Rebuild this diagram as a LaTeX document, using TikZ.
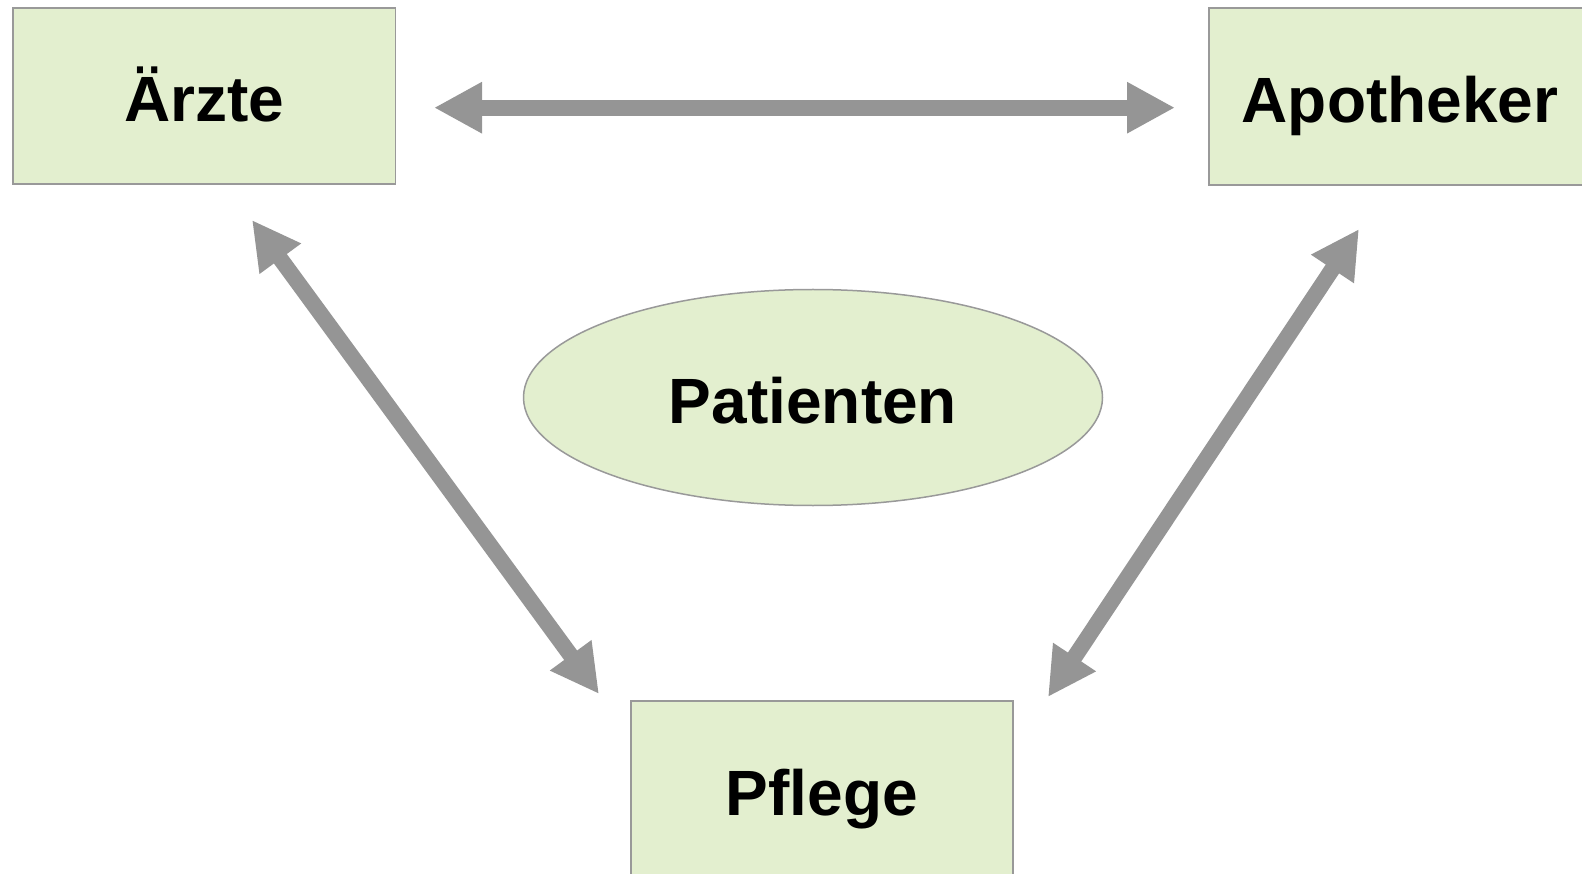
\documentclass[tikz,border=0pt]{standalone}
\usepackage{fontspec}
\setmainfont{Liberation Sans}
\usetikzlibrary{arrows.meta,shapes.geometric}
\definecolor{boxfill}{HTML}{E3EFCF}
\definecolor{boxline}{HTML}{999999}
\definecolor{arrowgray}{HTML}{959595}
\begin{document}
\begin{tikzpicture}[x=1pt,y=-1pt,
  box/.style={draw=boxline, line width=1.5pt, fill=boxfill, inner sep=0pt,
    text height=52pt, text depth=0pt,
    font=\fontsize{64}{70}\selectfont\bfseries},
  link/.style={draw=arrowgray, line width=16pt,
    {Triangle[length=48pt,width=48pt]}-{Triangle[length=48pt,width=48pt]}}]
\useasboundingbox (0,0) rectangle (1582,874);
\node[box, minimum width=382.5pt, minimum height=176pt] (arzte) at (204.25,96) {Ärzte};
\node[box, minimum width=382pt, minimum height=177pt] (apo) at (1400,96.5) {Apotheker};
\node[box, minimum width=382pt, minimum height=176pt] (pflege) at (822,789) {Pflege};
\node[box, ellipse, minimum width=579pt, minimum height=216pt] (pat) at (813,397.5) {Patienten};
\coordinate (h1) at (434,107.7);
\coordinate (h2) at (1175,107.7);
\coordinate (l1) at (252,220);
\coordinate (l2) at (599,694);
\coordinate (r1) at (1359,229);
\coordinate (r2) at (1048,697);
\draw[link] (h1) -- (h2);
\draw[link] (l1) -- (l2);
\draw[link] (r1) -- (r2);
\end{tikzpicture}
\end{document}
